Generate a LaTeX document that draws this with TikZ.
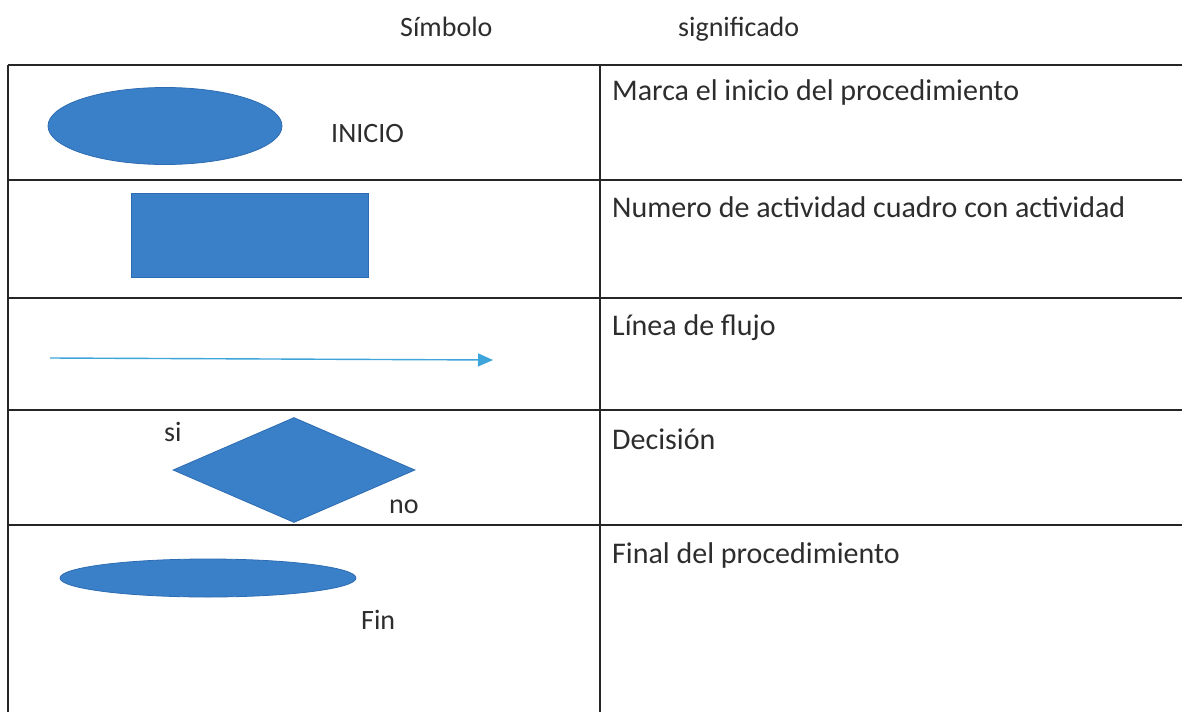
\documentclass[tikz,border=0pt]{standalone}
\usepackage{fontspec}
\setmainfont{Carlito}
\usetikzlibrary{shapes.geometric, arrows.meta}
\definecolor{shapeblue}{RGB}{58,128,200}
\definecolor{edgeblue}{RGB}{45,108,178}
\definecolor{flowblue}{RGB}{62,165,218}
\definecolor{inkgray}{RGB}{45,45,45}

\begin{document}
\begin{tikzpicture}[x=1pt, y=-1pt,
    every node/.style={font=\fontsize{28}{32}\selectfont, text=inkgray, inner sep=0pt},
    sym/.style={fill=shapeblue, draw=edgeblue, line width=0.8pt},
    rule/.style={line width=1.5pt, draw=black!85},
    txt/.style={anchor=base west},
    mean/.style={anchor=base west, font=\fontsize{30}{34}\selectfont}]
        \useasboundingbox (0,0) rectangle (1182,712);

        % header
        \node[txt] at (400,36)   (hsym) {Símbolo};
        \node[txt] at (678,36)   (hsig) {significado};

        % table
        \draw [rule] (8,65) -- (1182,65);
        \foreach \y in {180,298,410,525} {\draw [rule] (8,\y) -- (1182,\y);}
        \draw [rule] (8,65) -- (8,712);\draw [rule] (600,65) -- (600,712);

        % symbols
        \node[sym, ellipse, minimum width=234, minimum height=77] at (165,126)   (inicio) {};
        \node[txt] at (331,142)   (linicio) {INICIO};
        \node[sym, rectangle, minimum width=237, minimum height=84] at (249.5,235)   (activ) {};
        \coordinate (flowa) at (50,358);
        \coordinate (flowb) at (493,360);
        \draw [flowblue, line width=1.4pt, -{Triangle[length=15pt, width=13pt]}] (flowa) -- (flowb);
        \node[sym, diamond, minimum width=242, minimum height=105] at (294,470)   (decis) {};
        \node[txt] at (164,441)   (lsi) {si};
        \node[txt] at (389,513)   (lno) {no};
        \node[sym, ellipse, minimum width=296, minimum height=38] at (208,578)   (fin) {};
        \node[txt] at (361,629)   (lfin) {Fin};

        % meanings
        \node[mean] at (612,100)   (m1) {Marca el inicio del procedimiento};
        \node[mean] at (612,217)   (m2) {Numero de actividad cuadro con actividad};
        \node[mean] at (612,335)   (m3) {Línea de flujo};
        \node[mean] at (612,449)   (m4) {Decisión};
        \node[mean] at (612,563)   (m5) {Final del procedimiento};
    \end{tikzpicture}
\end{document}
